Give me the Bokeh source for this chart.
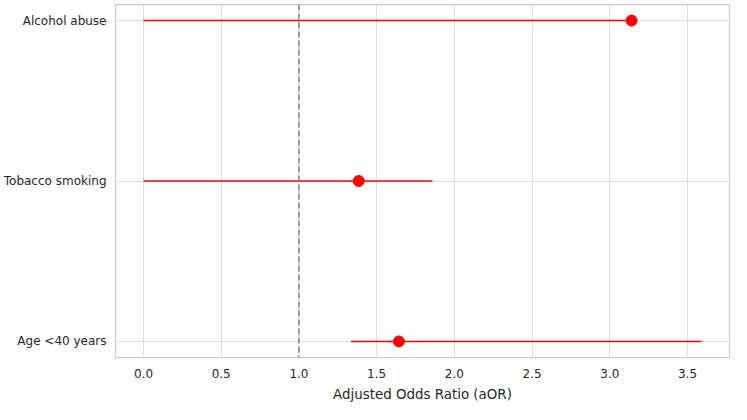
from bokeh.plotting import figure
from bokeh.models import ColumnDataSource, FixedTicker, Span, Range1d
from bokeh.embed import file_html
from bokeh.resources import INLINE

# Data
factors = ["Alcohol abuse", "Tobacco smoking", "Age <40 years"]
aor = [3.14, 1.385, 1.643]
ci_low = [0.0, 0.0, 1.335]
ci_high = [3.14, 1.86, 3.59]
x_ticks = [0.0, 0.5, 1.0, 1.5, 2.0, 2.5, 3.0, 3.5]
x_label = "Adjusted Odds Ratio (aOR)"

# categorical positions: first factor on top
ypos = [len(factors) - 1 - i for i in range(len(factors))]

src = ColumnDataSource(dict(y=ypos, aor=aor, lo=ci_low, hi=ci_high, name=factors))

p = figure(width=731, height=404, output_backend="svg", toolbar_location=None,
           x_range=Range1d(-0.18, 3.77), y_range=Range1d(-0.1, 2.1),
           min_border_left=10, min_border_right=2, min_border_top=4, min_border_bottom=0)

p.background_fill_color = "white"
p.border_fill_color = "white"
p.outline_line_color = "#cccccc"
p.outline_line_width = 1.25

# grid
p.xgrid.grid_line_color = "#dedede"
p.ygrid.grid_line_color = "#dedede"
p.xgrid.grid_line_width = 1
p.ygrid.grid_line_width = 1

# axes
p.xaxis.ticker = FixedTicker(ticks=x_ticks)
p.xaxis.major_label_overrides = {t: f"{t:.1f}" for t in x_ticks}
p.yaxis.ticker = FixedTicker(ticks=ypos)
p.yaxis.major_label_overrides = {y: n for y, n in zip(ypos, factors)}
for ax in (p.xaxis, p.yaxis):
    ax.axis_line_color = None
    ax.major_tick_line_color = None
    ax.minor_tick_line_color = None
    ax.major_tick_out = 0
    ax.major_tick_in = 0
    ax.major_label_text_font = "DejaVu Sans"
    ax.major_label_text_font_size = "12px"
    ax.major_label_text_color = "#262626"
p.xaxis.major_label_standoff = 11
p.yaxis.major_label_standoff = 9
p.xaxis.axis_label = x_label
p.xaxis.axis_label_text_font = "DejaVu Sans"
p.xaxis.axis_label_text_font_size = "13.4px"
p.xaxis.axis_label_text_font_style = "normal"
p.xaxis.axis_label_text_color = "#262626"
p.xaxis.axis_label_standoff = 6

# reference line at aOR = 1
p.add_layout(Span(location=1.0, dimension="height", line_color="#7f7f7f",
                  line_width=1.5, line_dash="6 3"))

# confidence intervals and points
p.segment(x0="lo", x1="hi", y0="y", y1="y", source=src, line_color="red", line_width=1.5)
p.scatter(x="aor", y="y", source=src, size=11, fill_color="red", line_color="red")

open("out.html", "w").write(file_html(p, INLINE))
